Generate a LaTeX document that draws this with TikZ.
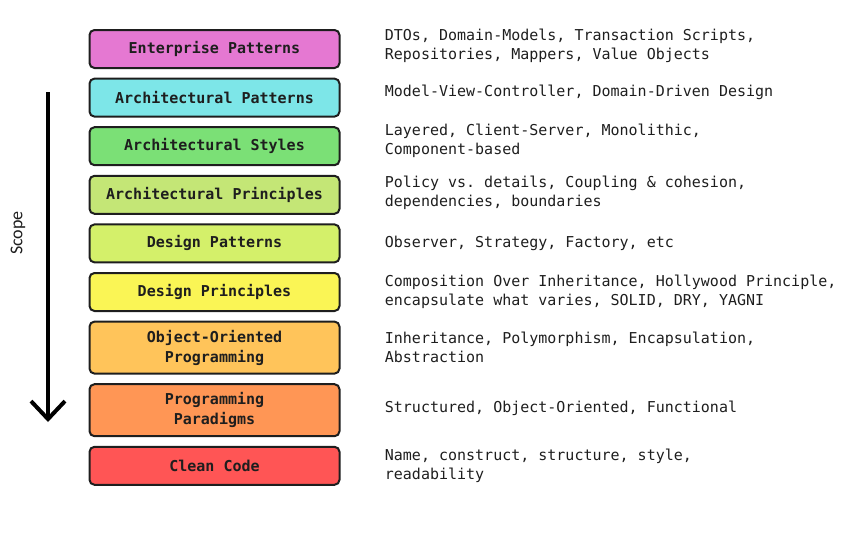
\documentclass[tikz,border=0pt]{standalone}
\usepackage{fontspec}
\setmonofont{DejaVu Sans Mono}
\setsansfont{Carlito}
\usepackage{xcolor}
\usepackage{tikz}
\usetikzlibrary{positioning, arrows.meta}
\definecolor{enterpink}{HTML}{E578D2}
\definecolor{archcyan}{HTML}{7DE6E8}
\definecolor{stylegreen}{HTML}{7BE076}
\definecolor{princgreen}{HTML}{C4E676}
\definecolor{patlime}{HTML}{D4F06A}
\definecolor{princyellow}{HTML}{FAF555}
\definecolor{oopamber}{HTML}{FFC45A}
\definecolor{paraorange}{HTML}{FF9655}
\definecolor{cleanred}{HTML}{FF5555}
\definecolor{edge}{HTML}{1E1E1E}

\tikzset{
  layer/.style={draw=edge, line width=1pt, rounded corners=2.5pt,
    minimum width=125pt, minimum height=19pt, inner ysep=2pt,
    align=center, text=edge,
    font=\ttfamily\bfseries\fontsize{7.5}{10}\selectfont},
  tall/.style={minimum height=26pt},
  desc/.style={right=22pt of #1, align=left, inner sep=0pt, text=edge,
    font=\ttfamily\fontsize{7.5}{9.5}\selectfont}
}

\begin{document}
\begin{tikzpicture}[x=0.5pt, y=-0.5pt]
  \useasboundingbox (0,0) rectangle (853,536);

  % the layers, top to bottom
  \node[layer, fill=enterpink] (enterprise) at (214.5,49) {Enterprise Patterns};
  \node[layer, fill=archcyan, below=4.3pt of enterprise] (archpat) {Architectural Patterns};
  \node[layer, fill=stylegreen, below=4.3pt of archpat] (archstyle) {Architectural Styles};
  \node[layer, fill=princgreen, below=4.3pt of archstyle] (archprinc) {Architectural Principles};
  \node[layer, fill=patlime, below=4.3pt of archprinc] (despat) {Design Patterns};
  \node[layer, fill=princyellow, below=4.3pt of despat] (desprinc) {Design Principles};
  \node[layer, tall, fill=oopamber, below=4.3pt of desprinc] (oop) {Object-Oriented\\Programming};
  \node[layer, tall, fill=paraorange, below=4.3pt of oop] (paradigm) {Programming\\Paradigms};
  \node[layer, fill=cleanred, below=4.3pt of paradigm] (clean) {Clean Code};

  % what each layer holds
  \node[desc=enterprise, yshift=1.5pt] (enterprisetxt) {DTOs, Domain-Models, Transaction Scripts,\\Repositories, Mappers, Value Objects};
  \node[desc=archpat, yshift=2.5pt] (archpattxt) {Model-View-Controller, Domain-Driven Design};
  \node[desc=archstyle, yshift=2.5pt] (archstyletxt) {Layered, Client-Server, Monolithic,\\Component-based};
  \node[desc=archprinc, yshift=1pt] (archprinctxt) {Policy vs. details, Coupling \& cohesion,\\dependencies, boundaries};
  \node[desc=despat] (despattxt) {Observer, Strategy, Factory, etc};
  \node[desc=desprinc] (desprinctxt) {Composition Over Inheritance, Hollywood Principle,\\encapsulate what varies, SOLID, DRY, YAGNI};
  \node[desc=oop] (ooptxt) {Inheritance, Polymorphism, Encapsulation,\\Abstraction};
  \node[desc=paradigm, yshift=1pt] (paradigmtxt) {Structured, Object-Oriented, Functional};
  \node[desc=clean] (cleantxt) {Name, construct, structure, style,\\readability};

  % scope arrow
  \coordinate (scopetop) at (48,92);
  \coordinate (scopeend) at (48,422);
  \draw[line width=2pt, -{Straight Barb[length=9pt, width=17pt]}] (scopetop) -- (scopeend);
  \node[rotate=90, font=\sffamily\fontsize{9}{11}\selectfont, text=edge] (scope) at (18,233) {Scope};
\end{tikzpicture}
\end{document}
